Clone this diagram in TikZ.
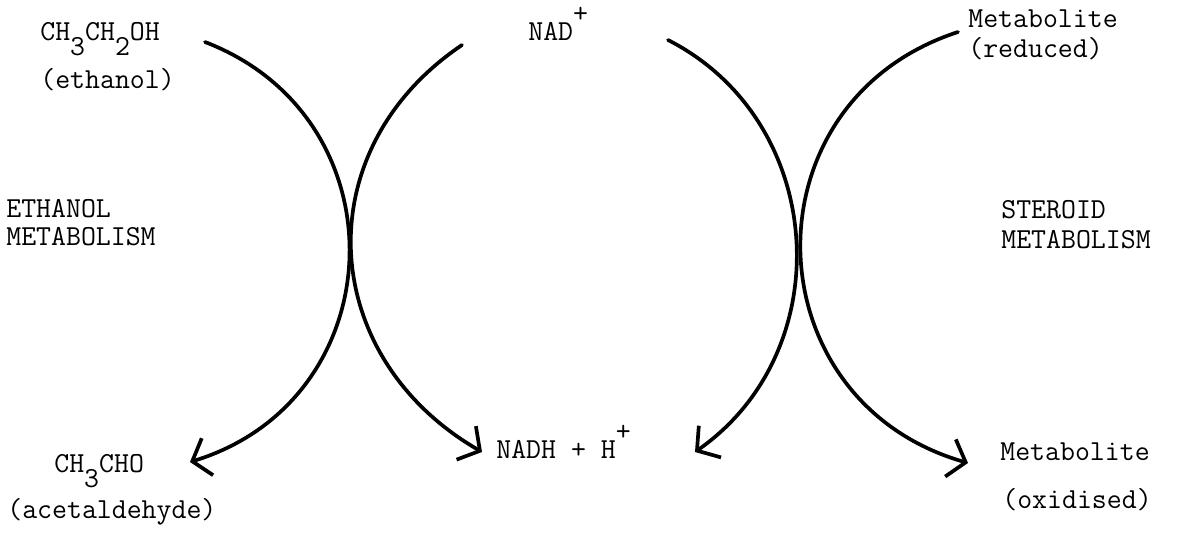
\documentclass[tikz,border=0pt]{standalone}
\usepackage{fontspec}
\usetikzlibrary{arrows.meta}
\newcommand{\chsub}[1]{\raisebox{-0.52em}{#1}}
\newcommand{\chsup}[1]{\raisebox{0.6em}{#1}}
\tikzset{
  lbl/.style={anchor=base west,inner sep=0pt,font=\ttfamily\fontsize{16.5}{19}\selectfont},
  rxn/.style={line width=2.1pt,line cap=round,-{Straight Barb[length=9pt,width=22pt]}},
}
\begin{document}
\begin{tikzpicture}[x=0.2mm,y=0.2mm]
\useasboundingbox (0,0) rectangle (1185,534);
\node[lbl] (eth) at (40,494) {CH\chsub{3}CH\chsub{2}OH};
\node[lbl] (ethn) at (40,446) {(ethanol)};
\node[lbl] (em1) at (6,317) {ETHANOL};
\node[lbl] (em2) at (6,289) {METABOLISM};
\node[lbl] (acet) at (54,62) {CH\chsub{3}CHO};
\node[lbl] (acetn) at (7,16) {(acetaldehyde)};
\node[lbl] (nad) at (528,494) {NAD\chsup{+}};
\node[lbl] (nadh) at (496,76) {NADH + H\chsup{+}};
\node[lbl] (mr1) at (968,507) {Metabolite};
\node[lbl] (mr2) at (968,477) {(reduced)};
\node[lbl] (sm1) at (1001,316) {STEROID};
\node[lbl] (sm2) at (1001,286) {METABOLISM};
\node[lbl] (mo1) at (1000,74) {Metabolite};
\node[lbl] (mo2) at (1002,26) {(oxidised)};
\coordinate (c1a) at (205,492);
\coordinate (c1b) at (190,72);
\coordinate (c2a) at (462,489);
\coordinate (c2b) at (482,82);
\coordinate (c3a) at (668,494);
\coordinate (c3b) at (695,82);
\coordinate (c4a) at (958,502);
\coordinate (c4b) at (968,71);
\draw[rxn] (c1a) to[out=-21,in=17,looseness=1.3] (c1b);
\draw[rxn] (c2a) to[out=-146,in=150,looseness=1.19] (c2b);
\draw[rxn] (c3a) to[out=-27,in=35,looseness=1.105] (c3b);
\draw[rxn] (c4a) to[out=198,in=164,looseness=1.34] (c4b);
\end{tikzpicture}
\end{document}
